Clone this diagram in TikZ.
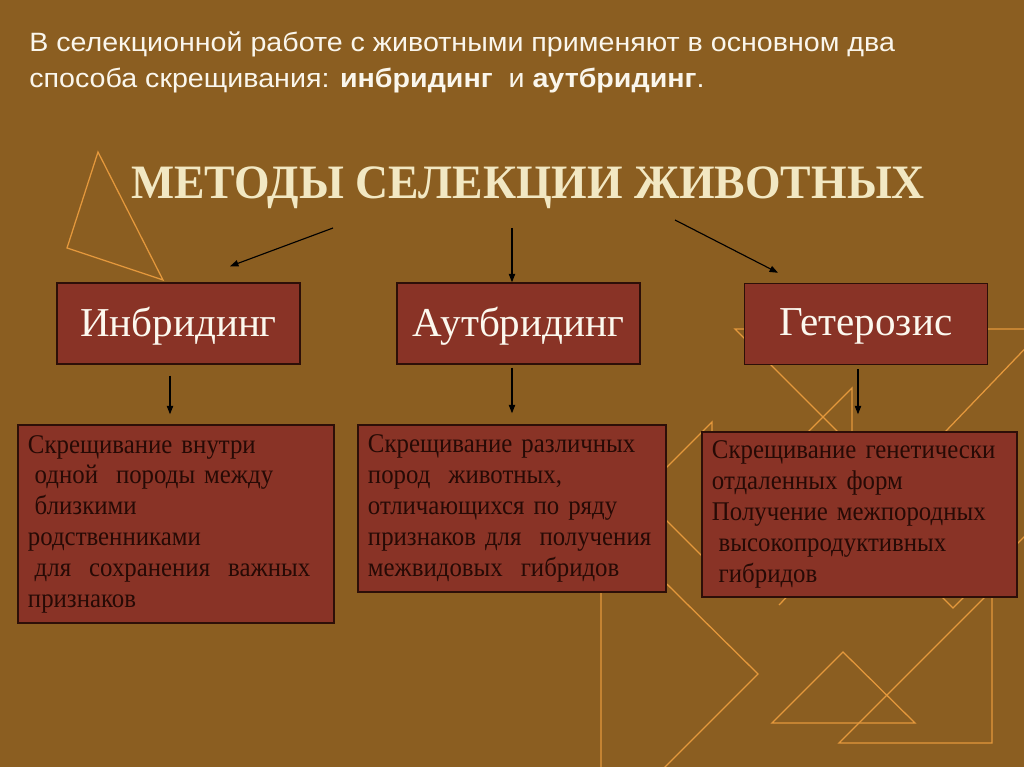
\documentclass[tikz,border=0pt]{standalone}
\usepackage{fontspec}
\setmainfont{Liberation Serif}
\newfontfamily\leadfont[FakeStretch = 1.08]{Liberation Sans}
\newfontfamily\bodyfont[FakeStretch = 0.92]{Liberation Serif}
\newfontfamily\headfont[FakeStretch = 0.953]{Liberation Serif}
\usetikzlibrary{arrows.meta}
\definecolor{bg}{RGB}{139,94,33}
\definecolor{boxfill}{RGB}{137,51,38}
\definecolor{boxline}{RGB}{45,15,8}
\definecolor{decoline}{RGB}{228,152,60}
\definecolor{cream}{RGB}{242,232,195}
\definecolor{hdrtext}{RGB}{252,248,238}
\definecolor{leadtext}{RGB}{250,246,236}
\definecolor{ink}{RGB}{38,10,5}
\newcommand{\indsp}{\hspace*{0.25em}}
\tikzset{deco/.style = {draw = decoline, line width = 0.9pt}}
\tikzset{arr/.style = {-{Triangle[length = 6pt, width = 4.5pt]}, line width = 0.8pt}}
\tikzset{hdr/.style = {draw = boxline, fill = boxfill, line width = 1pt, minimum width = 6.075cm, minimum height = 2.025cm, text = hdrtext, text depth = 0.1cm, font = \fontsize{29.2}{34}\selectfont}}
\tikzset{txtbox/.style = {draw = boxline, fill = boxfill, line width = 1pt, align = left, inner xsep = 0.25cm, text = ink, font = \bodyfont\fontsize{19.2}{21.9}\selectfont}}
\tikzset{lead/.style = {anchor = base west, inner sep = 0, text = leadtext, font = \leadfont\fontsize{18.85}{22}\selectfont}}
\tikzset{heading/.style = {anchor = base, inner sep = 0, text = cream, font = \headfont\bfseries\fontsize{34.1}{40}\selectfont}}

\begin{document}
\begin{tikzpicture}[x = 0.025cm, y = -0.025cm]
      \fill [bg] (0, 0) rectangle (1024, 767);
      \clip (0, 0) rectangle (1024, 767);

      \draw [deco] (98, 152) -- (67, 248) -- (163, 280) -- cycle;
      \draw [deco] (1030, 329) -- (735, 329) -- (890, 484);
      \draw [deco] (852, 520) -- (852, 388) -- (790, 450);
      \draw [deco] (712, 566) -- (712, 422) -- (640, 494) -- cycle;
      \draw [deco] (601, 519) -- (758, 674) -- (601, 831) -- cycle;
      \draw [deco] (1040, 333) -- (779, 605);
      \draw [deco] (880, 535) -- (953, 608) -- (1030, 531);
      \draw [deco] (839, 743) -- (992, 743) -- (992, 590) -- cycle;
      \draw [deco] (843, 652) -- (772, 723) -- (915, 723) -- cycle;

      \node [lead] at (29, 52) (lead1) {В селекционной работе с животными применяют в основном два};
      \node [lead] at (29, 88) (lead2) {способа скрещивания: \textbf{инбридинг}~ и~\textbf{аутбридинг}.};

      \node [heading] at (528, 199) (ttl) {МЕТОДЫ СЕЛЕКЦИИ ЖИВОТНЫХ};

      \node [hdr] at (178.5, 323.5) (inb) {Инбридинг};
      \node [hdr] at (518.5, 323.5) (aut) {Аутбридинг};
      \node [hdr] at (866, 324) (het) {Гетерозис};

      \node [txtbox, text width = 7.4cm, minimum height = 4.95cm] at (176, 524) (inbtxt) {Скрещивание внутри\\ \indsp одной~ породы между\\ \indsp близкими\\ родственниками\\ \indsp для~ сохранения~ важных\\ признаков};
      \node [txtbox, text width = 7.2cm, minimum height = 4.175cm] at (512, 508.5) (auttxt) {Скрещивание различных\\ пород~ животных,\\ отличающихся по ряду\\ признаков для~ получения\\ межвидовых~ гибридов};
      \node [txtbox, text width = 7.375cm, minimum height = 4.125cm] at (859.5, 514.5) (hettxt) {Скрещивание генетически\\ отдаленных форм\\ Получение межпородных\\ \indsp высокопродуктивных\\ \indsp гибридов};

      \draw [arr] ([shift = {(-195, 29)}] ttl.base) -- ([shift = {(51.5, -16)}] inb.north);
      \draw [arr] ([shift = {(-16, 29)}] ttl.base) -- ([shift = {(-6.5, 0)}] aut.north);
      \draw [arr] ([shift = {(147, 21)}] ttl.base) -- ([shift = {(-88, -10)}] het.north);

      \draw [arr] ([shift = {(-8.5, 11)}] inb.south) -- ([shift = {(-6, -10)}] inbtxt.north);
      \draw [arr] ([shift = {(-6.5, 3)}] aut.south) -- ([shift = {(0, -11)}] auttxt.north);
      \draw [arr] ([shift = {(-8, 4)}] het.south) -- ([shift = {(-1.5, -17)}] hettxt.north);
\end{tikzpicture}
\end{document}
